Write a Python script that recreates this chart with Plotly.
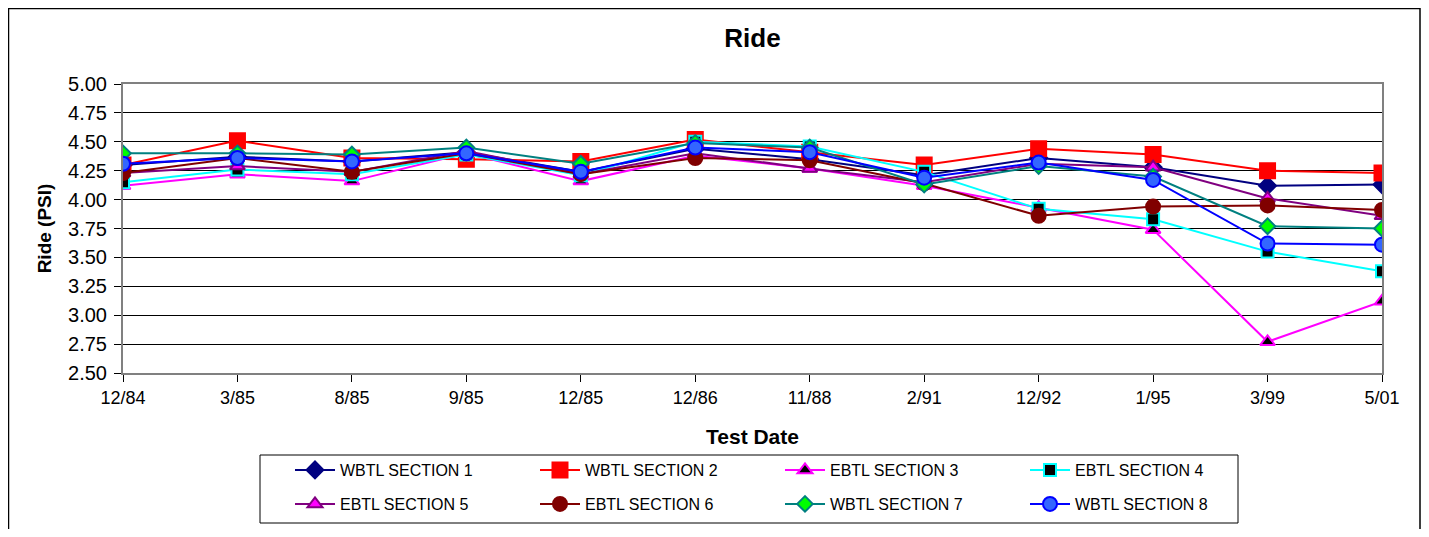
import plotly.graph_objects as go

dates = ["12/84", "3/85", "8/85", "9/85", "12/85", "12/86", "11/88", "2/91", "12/92", "1/95", "3/99", "5/01"]

s1 = [4.30, 4.37, 4.33, 4.41, 4.24, 4.44, 4.35, 4.21, 4.36, 4.28, 4.12, 4.13]
s2 = [4.30, 4.51, 4.36, 4.35, 4.33, 4.52, 4.41, 4.30, 4.44, 4.39, 4.25, 4.23]
s3 = [4.12, 4.22, 4.16, 4.40, 4.16, 4.38, 4.27, 4.12, 3.93, 3.74, 2.77, 3.12]
s4 = [4.15, 4.26, 4.22, 4.39, 4.21, 4.50, 4.46, 4.24, 3.92, 3.83, 3.55, 3.38]
s5 = [4.23, 4.29, 4.24, 4.42, 4.22, 4.40, 4.27, 4.15, 4.31, 4.28, 4.01, 3.86]
s6 = [4.23, 4.36, 4.24, 4.40, 4.22, 4.36, 4.34, 4.14, 3.86, 3.94, 3.95, 3.91]
s7 = [4.40, 4.40, 4.39, 4.45, 4.31, 4.49, 4.45, 4.13, 4.29, 4.20, 3.77, 3.75]
s8 = [4.31, 4.36, 4.33, 4.40, 4.24, 4.45, 4.41, 4.19, 4.32, 4.17, 3.62, 3.61]

names = ["WBTL SECTION 1", "WBTL SECTION 2", "EBTL SECTION 3", "EBTL SECTION 4",
         "EBTL SECTION 5", "EBTL SECTION 6", "WBTL SECTION 7", "WBTL SECTION 8"]
series = [s1, s2, s3, s4, s5, s6, s7, s8]
line_colors = ["#000080", "#FF0000", "#FF00FF", "#00FFFF", "#800080", "#800000", "#008080", "#0000FF"]
marker_fill = ["#000080", "#FF0000", "#000000", "#000000", "#FF00FF", "#800000", "#00FF00", "#3366FF"]
marker_edge = ["#000080", "#FF0000", "#FF00FF", "#00FFFF", "#800080", "#800000", "#008080", "#0000FF"]
symbols = ["diamond", "square", "triangle-up", "square", "triangle-up", "circle", "diamond", "circle"]
sizes = [13, 15, 13, 12, 13, 14, 12, 14]

FONT = "Liberation Sans, Arial, sans-serif"

fig = go.Figure()
for i, (nm, vals) in enumerate(zip(names, series)):
    fig.add_trace(go.Scatter(
        x=dates, y=vals, name=nm, mode="lines+markers",
        line=dict(color=line_colors[i], width=2),
        marker=dict(symbol=symbols[i], size=sizes[i], color=marker_fill[i],
                    line=dict(color=marker_edge[i], width=2)),
        legend="legend" if i < 4 else "legend2",
    ))

# page body has an 8px margin; figure coords = screen coords - OFF
OFF = 8
W, H = 1429 - 2 * OFF, 537 - 2 * OFF
PL, PR, PT, PB = 123, 1382, 84, 373  # plot area in screen px
L, T = PL - OFF, PT - OFF
R, B = W - (PR - OFF), H - (PB - OFF)
pw, ph = W - L - R, H - T - B

def px(x):
    return (x - OFF - L) / pw

def py(y):
    return (H - B - (y - OFF)) / ph

leg_common = dict(orientation="h", xanchor="left", yanchor="middle",
                  entrywidth=190, entrywidthmode="pixels",
                  font=dict(family=FONT, size=16, color="black"),
                  bgcolor="rgba(0,0,0,0)", borderwidth=0, itemwidth=40)

fig.update_layout(
    width=W, height=H,
    margin=dict(l=L, r=R, t=T, b=B, autoexpand=False),
    paper_bgcolor="white", plot_bgcolor="white",
    font=dict(family=FONT, color="black"),
    title=dict(text="<b>Ride</b>", x=(L + pw / 2) / W, xanchor="center",
               y=1 - (38 - OFF) / H, yanchor="middle", font=dict(size=26, family=FONT)),
    xaxis=dict(
        type="category", range=[0, 11], automargin=False,
        title=dict(text="<b>Test Date</b>", font=dict(size=21, family=FONT), standoff=23),
        tickfont=dict(size=18, family=FONT),
        showgrid=False, showline=True, linecolor="#808080", linewidth=2, mirror=True,
        ticks="outside", ticklen=7, tickcolor="black", zeroline=False,
    ),
    yaxis=dict(
        range=[2.5, 5.0], dtick=0.25, tickformat=".2f", automargin=False,
        title=dict(text="<b>Ride (PSI)</b>", font=dict(size=19, family=FONT), standoff=11),
        tickfont=dict(size=20, family=FONT), ticklabelstandoff=3,
        showgrid=True, gridcolor="black", gridwidth=1,
        showline=True, linecolor="#808080", linewidth=2, mirror=True,
        ticks="outside", ticklen=7, tickcolor="black", zeroline=False,
    ),
    legend=dict(x=px(290), y=py(470), **leg_common),
    legend2=dict(x=px(290), y=py(504), **leg_common),
    shapes=[
        dict(type="rect", xref="paper", yref="paper",
             x0=px(260), x1=px(1238), y0=py(455), y1=py(523),
             line=dict(color="black", width=1), fillcolor="rgba(0,0,0,0)", layer="below"),
        dict(type="rect", xref="paper", yref="paper",
             x0=px(8.5), x1=px(1420), y0=py(8.5), y1=py(540),
             line=dict(color="black", width=1.5), fillcolor="rgba(0,0,0,0)", layer="below"),
    ],
)

fig.write_html("out.html")
